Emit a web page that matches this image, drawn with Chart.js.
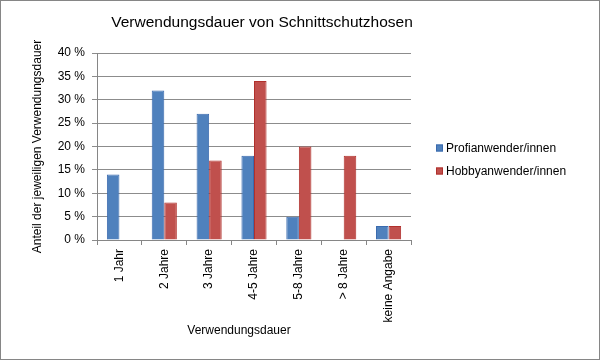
<!DOCTYPE html>
<html>
<head>
<meta charset="utf-8">
<script src="https://cdn.jsdelivr.net/npm/chart.js@4"></script>
<style>
  body { margin: 0; background: #fff; }
  #wrap { width: 600px; height: 360px; box-sizing: border-box; border: 1px solid #868686; }
  canvas { display: block; }
</style>
</head>
<body>
<div id="wrap"><canvas id="dauerChart" width="598" height="358"></canvas></div>
<script>
const categories = ['1 Jahr', '2 Jahre', '3 Jahre', '4-5 Jahre', '5-8 Jahre', '> 8 Jahre', 'keine Angabe'];
const profiValues = [14, 32, 27, 18, 5, 0, 3];
const hobbyValues = [0, 8, 17, 34, 20, 18, 3];
const seriesNames = ['Profianwender/innen', 'Hobbyanwender/innen'];
const chartTitle = 'Verwendungsdauer von Schnittschutzhosen';
const xTitle = 'Verwendungsdauer';
const yTitle = 'Anteil der jeweiligen Verwendungsdauer';

const font = 'Liberation Sans, Arial, sans-serif';

// title, x title and legend drawn at fixed spots like the Excel original
const excelDecor = {
  id: 'excelDecor',
  afterDraw(chart) {
    const c = chart.ctx;
    c.save();
    c.fillStyle = '#000';
    c.font = '15.5px ' + font;
    c.textAlign = 'center';
    c.textBaseline = 'middle';
    c.fillText(chartTitle, 261, 22);

    c.font = '12px ' + font;
    c.fillText(xTitle, 238, 330);

    c.textAlign = 'left';
    chart.data.datasets.forEach((ds, i) => {
      const y = 147 + i * 23;
      c.fillStyle = ds.backgroundColor;
      c.fillRect(435, y - 3.5, 7, 7);
      c.strokeStyle = ds.borderColor;
      c.lineWidth = 1;
      c.strokeRect(435.5, y - 3, 6, 6);
      c.fillStyle = '#000';
      c.fillText(ds.label, 445, y + 1);
    });
    c.restore();
  }
};

new Chart(document.getElementById('dauerChart'), {
  type: 'bar',
  data: {
    labels: categories,
    datasets: [{
      label: seriesNames[0],
      data: profiValues,
      backgroundColor: '#4F81BD',
      borderColor: '#3A6AAE',
      borderWidth: 1,
      categoryPercentage: 0.56,
      barPercentage: 1
    },
    {
      label: seriesNames[1],
      data: hobbyValues,
      backgroundColor: '#C0504D',
      borderColor: '#B0302C',
      borderWidth: 1,
      categoryPercentage: 0.56,
      barPercentage: 1
    }]
  },
  options: {
    responsive: false,
    animation: false,
    layout: { padding: { left: 25, top: 52, right: 188, bottom: 18 } },
    plugins: {
      legend: { display: false },
      title: { display: false },
      tooltip: { enabled: false }
    },
    scales: {
      x: {
        grid: { drawOnChartArea: false, drawTicks: true, tickLength: 5, color: '#868686' },
        border: { color: '#868686' },
        ticks: { minRotation: 90, maxRotation: 90, padding: 4, color: '#000', font: { family: font, size: 12 } },
        afterFit: (s) => { s.height = 101; }
      },
      y: {
        min: 0,
        max: 40,
        ticks: { stepSize: 5, padding: 7, color: '#000', font: { family: font, size: 12 },
          callback: (v) => v + ' %' },
        grid: { color: '#8c8c8c', tickLength: 5 },
        border: { color: '#868686' },
        title: { display: true, text: yTitle, color: '#000', font: { family: font, size: 12 } },
        afterFit: (s) => { s.width = 71; }
      }
    }
  },
  plugins: [excelDecor]
});
</script>
</body>
</html>
